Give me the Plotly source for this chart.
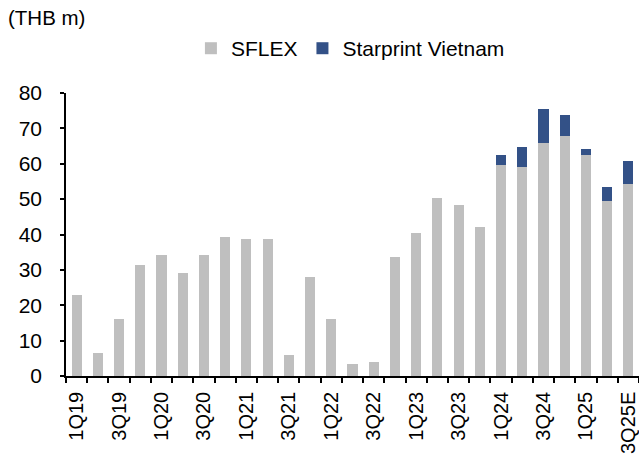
import plotly.graph_objects as go

quarters = ["1Q19", "2Q19", "3Q19", "4Q19", "1Q20", "2Q20", "3Q20", "4Q20",
            "1Q21", "2Q21", "3Q21", "4Q21", "1Q22", "2Q22", "3Q22", "4Q22",
            "1Q23", "2Q23", "3Q23", "4Q23", "1Q24", "2Q24", "3Q24", "4Q24",
            "1Q25", "2Q25", "3Q25E"]
sflex = [22.9, 6.4, 16.1, 31.4, 34.3, 29.2, 34.3, 39.4,
         38.8, 38.8, 5.9, 28.0, 16.0, 3.5, 4.1, 33.6,
         40.4, 50.2, 48.3, 42.1, 59.7, 59.1, 66.0, 67.8,
         62.5, 49.5, 54.2]
starprint = [0, 0, 0, 0, 0, 0, 0, 0,
             0, 0, 0, 0, 0, 0, 0, 0,
             0, 0, 0, 0, 2.8, 5.7, 9.4, 6.1,
             1.6, 3.9, 6.7]
tick_labels = [q if i % 2 == 0 else "" for i, q in enumerate(quarters)]
y_ticks = [0, 10, 20, 30, 40, 50, 60, 70, 80]

FONT = "Liberation Sans, Arial, sans-serif"

fig = go.Figure()
fig.add_trace(go.Bar(x=quarters, y=sflex, name="SFLEX",
                     marker=dict(color="#BFBFBF", line=dict(width=0))))
fig.add_trace(go.Bar(x=quarters, y=starprint, name="Starprint Vietnam",
                     marker=dict(color="#335187", line=dict(width=0))))

fig.update_layout(
    template="none",
    width=639, height=456,
    margin=dict(l=66, r=0, t=93, b=80),
    barmode="stack",
    bargap=0.52,
    paper_bgcolor="white", plot_bgcolor="white",
    font=dict(family=FONT, size=21, color="black"),
    showlegend=True,
    legend=dict(orientation="h", x=0.218, xanchor="left", y=1.157, yanchor="middle",
                font=dict(size=21), itemwidth=30, bgcolor="rgba(0,0,0,0)",
                traceorder="normal"),
    annotations=[dict(text="(THB m)", xref="paper", yref="paper",
                      x=-66/573 + 6/573, y=(376-18)/283, xanchor="left", yanchor="middle",
                      showarrow=False, font=dict(size=20.5))],
)
fig.update_xaxes(
    type="category", tickmode="array", tickvals=quarters, ticktext=tick_labels,
    tickangle=-90, tickson="boundaries", ticks="outside", ticklen=5,
    tickwidth=1.5, tickcolor="black",
    showline=True, linecolor="black", linewidth=1.5,
    showgrid=False, zeroline=False, automargin=False,
    range=[-0.5, len(quarters) - 0.5],
    tickfont=dict(size=20), ticklabelstandoff=6,
)
fig.update_yaxes(
    range=[0, 80], tickmode="array", tickvals=y_ticks,
    ticks="outside", ticklen=4, tickwidth=1.5, tickcolor="black",
    showline=True, linecolor="black", linewidth=1.5,
    showgrid=False, zeroline=False, automargin=False,
    ticklabelstandoff=14, tickfont=dict(size=21),
)

fig.write_html("out.html", config={"displayModeBar": False},
               post_script="document.body.style.margin='0';")
